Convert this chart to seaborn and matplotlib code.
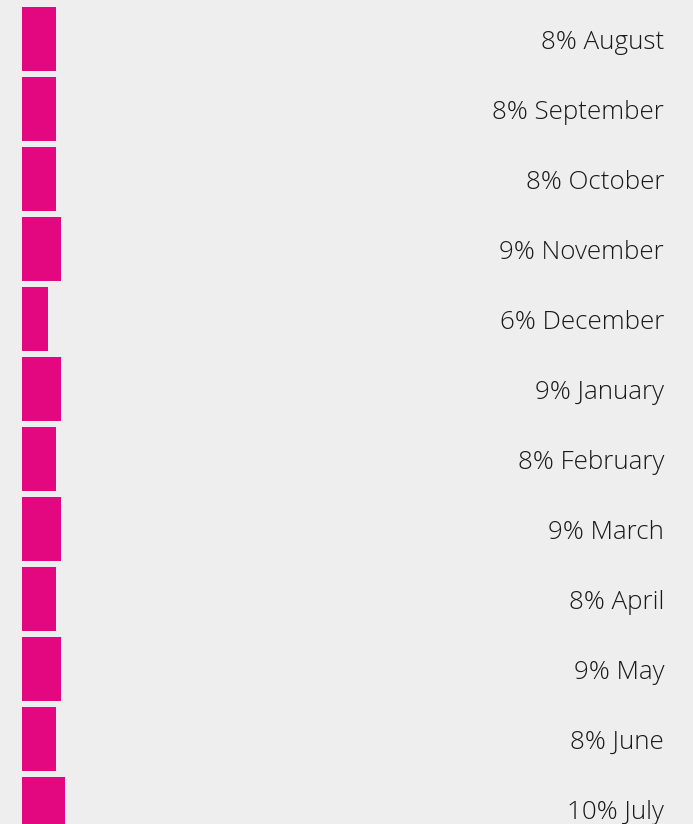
import pandas as pd
import matplotlib.pyplot as plt
import seaborn as sns

# Data
months = ['August', 'September', 'October', 'November', 'December', 'January',
          'February', 'March', 'April', 'May', 'June', 'July']
shares = [8, 8, 8, 9, 6, 9, 8, 9, 8, 9, 8, 10]

df = pd.DataFrame({'month': months, 'share': shares})

sns.set_style('white')
plt.rcParams['font.family'] = ['Open Sans', 'DejaVu Sans']

fig = plt.figure(figsize=(6.93, 8.24), dpi=100, facecolor='#eeeeee')
ax = fig.add_axes([0, 0, 1, 1])
ax.set_facecolor('#eeeeee')

sns.barplot(data=df, x='share', y='month', orient='h', color='#e3087f',
            width=64 / 70, saturation=1, linewidth=0, ax=ax)

# pixel-based limits: 4.3 px per percent, bars start at x=22, pitch 70 px
ax.set_xlim(-22 / 4.3, (693 - 22) / 4.3)
ax.set_ylim((824 - 39) / 70, -39 / 70)

for i, (m, v) in enumerate(zip(months, shares)):
    ax.text(664 / 693, i + 3.5 / 70, f'{v}% {m}', transform=ax.get_yaxis_transform(),
            ha='right', va='center', fontsize=18.7, fontweight='light',
            color='#1a1a1a')

ax.axis('off')
fig.savefig('out.png', dpi=100, facecolor='#eeeeee')
